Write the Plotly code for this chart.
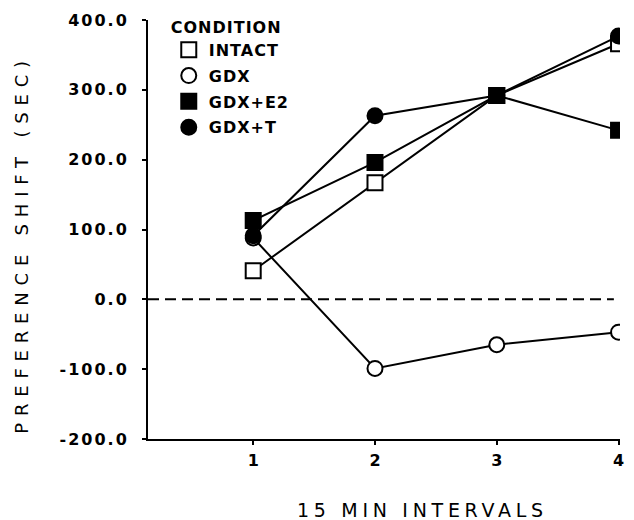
import plotly.graph_objects as go

# ---- data ----
intervals = [1, 2, 3, 4]
intact = [41, 167, 292, 366]
gdx = [88, -99, -65, -47]
gdx_e2 = [113, 196, 292, 242]
gdx_t = [91, 263, 292, 377]

y_tick_vals = [-200, -100, 0, 100, 200, 300, 400]
y_tick_text = ["-200.0", "-100.0", "0.0", "100.0", "200.0", "300.0", "400.0"]
x_tick_vals = [1, 2, 3, 4]
x_tick_text = ["1", "2", "3", "4"]

series_names = ["INTACT", "GDX", "GDX+E2", "GDX+T"]
legend_title = "CONDITION"
x_title = "15 MIN INTERVALS"
y_title = "PREFERENCE SHIFT (SEC)"

FONT = "DejaVu Sans"


def sp(text, ls):
    return f"<span style='letter-spacing:{ls}px'>{text}</span>"


styles = {
    "INTACT": dict(symbol="square", color="white"),
    "GDX": dict(symbol="circle", color="white"),
    "GDX+E2": dict(symbol="square", color="black"),
    "GDX+T": dict(symbol="circle", color="black"),
}
values = {"INTACT": intact, "GDX": gdx, "GDX+E2": gdx_e2, "GDX+T": gdx_t}

fig = go.Figure()

for name in series_names:
    st = styles[name]
    fig.add_trace(go.Scatter(
        x=intervals, y=values[name], mode="lines+markers",
        line=dict(color="black", width=2),
        marker=dict(symbol=st["symbol"], size=15, color=st["color"],
                    line=dict(color="black", width=2)),
        showlegend=False, hoverinfo="skip",
    ))

# legend-only entries (markers without line, like the reference key)
for name in series_names:
    st = styles[name]
    fig.add_trace(go.Scatter(
        x=[None], y=[None], mode="markers", name=sp(name, 1),
        legendgroup=name,
        marker=dict(symbol=st["symbol"], size=15, color=st["color"],
                    line=dict(color="black", width=2)),
        showlegend=True,
    ))

fig.add_shape(type="line", xref="paper", yref="y", x0=0, x1=0.987, y0=0, y1=0,
              line=dict(color="black", width=2, dash="11px,6px"), layer="below")

fig.add_annotation(text=sp(x_title, 4.7), xref="paper", yref="paper",
                   x=0.581, y=-0.1695, xanchor="center", yanchor="middle",
                   showarrow=False, font=dict(family=FONT, size=19, color="black"))
fig.add_annotation(text=sp(y_title, 6.8), xref="paper", yref="paper",
                   x=-0.268, y=0.465, xanchor="center", yanchor="middle",
                   textangle=-90, showarrow=False,
                   font=dict(family=FONT, size=18, color="black"))

fig.update_layout(
    width=634, height=520,
    margin=dict(l=148, r=10, t=20, b=81),
    paper_bgcolor="white", plot_bgcolor="white",
    font=dict(family=FONT, color="black"),
    legend=dict(
        title=dict(text="<b>" + sp(legend_title, 1) + "</b>",
                   font=dict(family=FONT, size=16, color="black")),
        font=dict(family=FONT, size=16, color="black", weight="bold"),
        traceorder="grouped", tracegroupgap=2,
        x=0.044, y=1.019, xanchor="left", yanchor="top",
        bgcolor="rgba(0,0,0,0)", borderwidth=0,
    ),
    xaxis=dict(
        range=[0.136, 4.012], showgrid=False, zeroline=False,
        showline=True, linecolor="black", linewidth=2,
        ticks="outside", ticklen=4, tickwidth=2, tickcolor="black",
        tickvals=x_tick_vals, ticktext=x_tick_text,
        tickfont=dict(family=FONT, size=16, color="black", weight="bold"),
        ticklabelstandoff=2,
    ),
    yaxis=dict(
        range=[-200, 400], showgrid=False, zeroline=False,
        showline=True, linecolor="black", linewidth=2,
        ticks="outside", ticklen=4, tickwidth=2, tickcolor="black",
        tickvals=y_tick_vals, ticktext=[sp(t, 2) for t in y_tick_text],
        tickfont=dict(family=FONT, size=16, color="black", weight="bold"),
        ticklabelstandoff=10,
    ),
)

fig.write_html("out.html", config={"displayModeBar": False},
               post_script="document.body.style.margin='0';")
